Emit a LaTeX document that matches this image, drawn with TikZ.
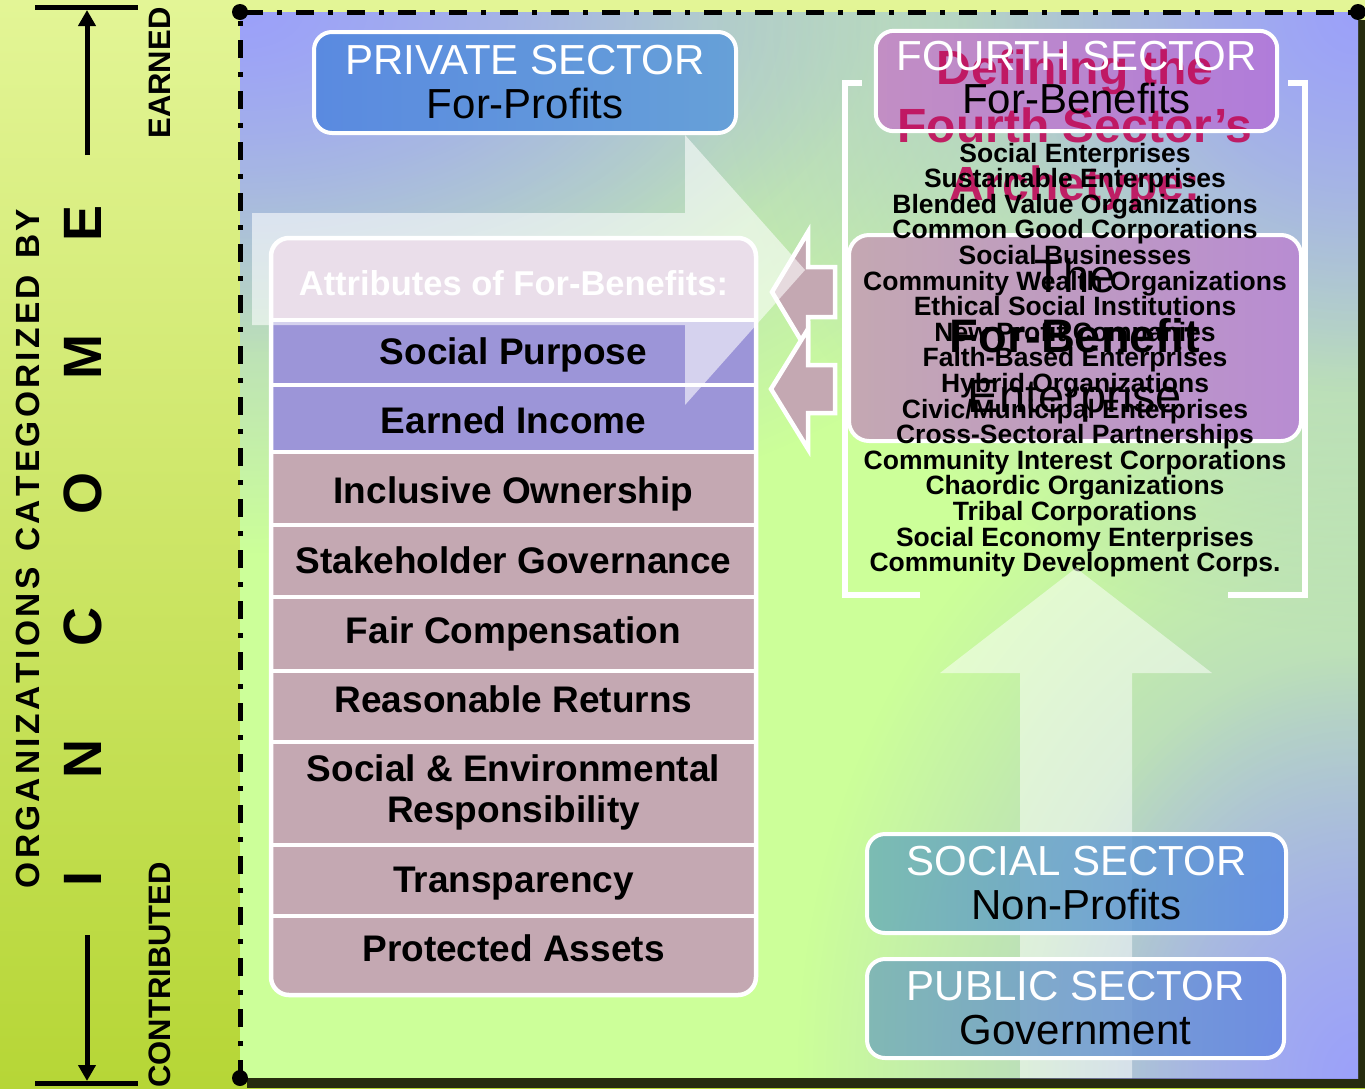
\documentclass[tikz,border=0pt]{standalone}
\usepackage{fontspec}
\setmainfont{Liberation Sans}
\usetikzlibrary{fadings,arrows.meta}

\definecolor{bgtop}{HTML}{E3F596}
\definecolor{bgbot}{HTML}{B6D636}
\definecolor{pgreen}{HTML}{CCFF99}
\definecolor{ppurp}{HTML}{999CFF}
\definecolor{shadowc}{HTML}{262C0E}
\definecolor{mauve}{HTML}{C4A8B2}
\definecolor{lilac}{HTML}{9C95D8}
\definecolor{hdrc}{HTML}{CDB2CE}
\definecolor{magen}{HTML}{C0105C}
\definecolor{privL}{HTML}{5A8AE0}
\definecolor{privR}{HTML}{66A0D8}
\definecolor{fourL}{HTML}{C28EC4}
\definecolor{fourR}{HTML}{B07CDA}
\definecolor{febL}{HTML}{C4A8B2}
\definecolor{febR}{HTML}{B88CD2}
\definecolor{socL}{HTML}{6EB2B6}
\definecolor{socR}{HTML}{5A8AE2}
\definecolor{pubL}{HTML}{76AEB8}
\definecolor{pubR}{HTML}{6688E2}

\tikzfading[name=blobfade, inner color=transparent!0, outer color=transparent!100]

\def\spaceout#1{\spaceoutA#1\relax}
\def\spaceoutA#1{\ifx#1\relax\else#1\kern3.3pt\expandafter\spaceoutA\fi}

\tikzset{
  sidetext/.style={rotate=90, inner sep=0pt},
  sectorbox/.style={draw=white, line width=4pt, rounded corners=18pt, align=center,
     font=\fontsize{42}{44}\selectfont},
  rowtext/.style={anchor=base, font=\bfseries\fontsize{37}{41}\selectfont, align=center},
  blockarrow/.style={fill=mauve, draw=white, line width=4.5pt, line join=miter},
  ghostarrow/.style={fill=white, opacity=0.58},
  blob/.style={fill=ppurp, path fading=blobfade, opacity=0.78},
}

\begin{document}
\begin{tikzpicture}[x=1pt,y=-1pt]
\useasboundingbox (0,0) rectangle (1365,1088);

% background strip
\shade[top color=bgtop, bottom color=bgbot] (0,0) rectangle (1365,1088);
% shadow
\fill[shadowc] (247,20) rectangle (1365,1088);
% panel
\fill[pgreen] (240,12) rectangle (1358,1078);
\begin{scope}
  \clip (240,12) rectangle (1358,1078);
  \fill[blob] (240,12) ellipse [x radius=920pt, y radius=540pt];
  \fill[blob] (240,12) ellipse [x radius=640pt, y radius=340pt];
  \fill[blob] (1358,12) ellipse [x radius=640pt, y radius=620pt];
  \fill[blob] (1358,12) ellipse [x radius=400pt, y radius=380pt];
  \fill[blob] (1358,1078) ellipse [x radius=560pt, y radius=700pt];
  \fill[blob] (1358,1078) ellipse [x radius=330pt, y radius=420pt];
\end{scope}

% dash-dot frame
\coordinate (fBL) at (240,1078);
\coordinate (fTL) at (240,12);
\coordinate (fTR) at (1358,12);
\draw[line width=5pt, dash pattern=on 18pt off 14pt on 5pt off 14pt] (fBL) -- (fTL) -- (fTR);
\fill (fTL) circle[radius=8pt];
\fill (fBL) circle[radius=8pt];
\fill (fTR) circle[radius=8pt];

% left strip
\coordinate (eL) at (35,7.5);
\coordinate (eR) at (138,7.5);
\coordinate (eA0) at (87,155);
\coordinate (eA1) at (87,10);
\draw[line width=5pt] (eL) -- (eR);
\draw[line width=5pt, -{Triangle[length=16pt,width=17pt]}] (eA0) -- (eA1);
\coordinate (cL) at (35,1083);
\coordinate (cR) at (138,1083);
\coordinate (cA0) at (87,935);
\coordinate (cA1) at (87,1081);
\draw[line width=5pt] (cL) -- (cR);
\draw[line width=5pt, -{Triangle[length=16pt,width=17pt]}] (cA0) -- (cA1);

\node[sidetext, font=\bfseries\fontsize{33.5}{36}\selectfont] (orgby) at (28,547)
  {\spaceout{ORGANIZATIONS~CATEGORIZED~BY}};
\node[sidetext, font=\bfseries\fontsize{54}{56}\selectfont] (income) at (83,546)
  {I\hspace{93pt}N\hspace{93pt}C\hspace{93pt}O\hspace{93pt}M\hspace{93pt}E};
\node[sidetext, font=\bfseries\fontsize{31}{33}\selectfont] (earned) at (159.5,73) {EARNED};
\node[sidetext, font=\bfseries\fontsize{31}{33}\selectfont] (contrib) at (159.5,975) {CONTRIBUTED};

% white bracket
\draw[white, line width=6pt] (862,83) -- (845,83) -- (845,595) -- (920,595);
\draw[white, line width=6pt] (1288,83) -- (1305,83) -- (1305,595) -- (1228,595);

% fourth sector box
\node[rounded corners=18pt, left color=fourL, right color=fourR, minimum width=401pt,
      minimum height=100pt] (fourth) at (1076.5,81) {};
\node[font=\bfseries\fontsize{48}{58}\selectfont, text=magen, text opacity=0.92, align=center]
  (title) at (1075,130) {Defining the\\Fourth Sector’s\\Archetype:};
\draw[white, line width=4pt, rounded corners=18pt] (fourth.south west) rectangle (fourth.north east);
\node[align=center, font=\fontsize{42}{43}\selectfont] (fourthtxt) at (1076.5,78)
  {\textcolor{white}{FOURTH SECTOR}\\For-Benefits};

% private sector box
\node[sectorbox, left color=privL, right color=privR, minimum width=422pt, minimum height=101pt]
  (private) at (525,82.5) {\textcolor{white}{PRIVATE SECTOR}\\For-Profits};

% attributes box
\begin{scope}
  \clip[rounded corners=18pt] (271,238) rectangle (756,995);
  \fill[hdrc] (271,238) rectangle (756,320);
  \fill[lilac] (271,320) rectangle (756,452);
  \fill[mauve] (271,452) rectangle (756,995);
  \foreach \yy in {320,385,452,525,597,671,742,845,916}
    \draw[white, line width=4pt] (265,\yy) -- (762,\yy);
\end{scope}
\draw[white, line width=4.5pt, rounded corners=18pt] (271,238) rectangle (756,995);

\node[anchor=base, font=\bfseries\fontsize{34.5}{36}\selectfont, text=white] (hdr) at (513.5,295)
  {Attributes of For-Benefits:};
\node[rowtext] (r1) at (513.5,364) {Social Purpose};
\node[rowtext] (r2) at (513.5,433) {Earned Income};
\node[rowtext] (r3) at (513.5,503) {Inclusive Ownership};
\node[rowtext] (r4) at (513.5,573) {Stakeholder Governance};
\node[rowtext] (r5) at (513.5,643) {Fair Compensation};
\node[rowtext] (r6) at (513.5,712) {Reasonable Returns};
\node[rowtext, anchor=center] (r7) at (513.5,792) {Social \& Environmental\\Responsibility};
\node[rowtext] (r8) at (513.5,892) {Transparency};
\node[rowtext] (r9) at (513.5,961) {Protected Assets};

% left-pointing block arrows
\draw[blockarrow] (772,292) -- (808,232) -- (808,267) -- (835,267) -- (835,317) -- (808,317) -- (808,352) -- cycle;
\draw[blockarrow] (771,389) -- (808,329) -- (808,365) -- (835,365) -- (835,413) -- (808,413) -- (808,449) -- cycle;

% translucent right arrow from private sector
\fill[ghostarrow] (252,213) -- (685,213) -- (685,135) -- (805,270) -- (685,405) -- (685,325) -- (252,325) -- cycle;

% for-benefit enterprise box
\node[draw=white, line width=4pt, rounded corners=20pt, left color=febL, right color=febR,
      minimum width=452pt, minimum height=206pt] (feb) at (1075,338) {};
\node[align=center, font=\fontsize{47}{60}\selectfont] (febtxt) at (1075,340)
  {The\\\textbf{For-Benefit}\\Enterprise};

% list of names
\node[align=center, font=\bfseries\fontsize{26.5}{25.6}\selectfont] (names) at (1075,360)
  {Social Enterprises\\Sustainable Enterprises\\Blended Value Organizations\\Common Good Corporations\\Social Businesses\\Community Wealth Organizations\\Ethical Social Institutions\\New Profit Companies\\Faith-Based Enterprises\\Hybrid Organizations\\Civic/Municipal Enterprises\\Cross-Sectoral Partnerships\\Community Interest Corporations\\Chaordic Organizations\\Tribal Corporations\\Social Economy Enterprises\\Community Development Corps.};

% translucent up arrow
\fill[ghostarrow, opacity=0.5] (1020,1078) -- (1020,673) -- (940,673) -- (1076,568) -- (1212,673) -- (1132,673) -- (1132,1078) -- cycle;

% social & public sector boxes
\node[sectorbox, left color=socL, right color=socR, fill opacity=0.85, text opacity=1,
      minimum width=419pt, minimum height=99pt] (social) at (1076.5,883.5)
  {\textcolor{white}{SOCIAL SECTOR}\\Non-Profits};
\node[sectorbox, left color=pubL, right color=pubR, fill opacity=0.85, text opacity=1,
      minimum width=417pt, minimum height=99pt] (public) at (1075.5,1008.5)
  {\textcolor{white}{PUBLIC SECTOR}\\Government};

\end{tikzpicture}
\end{document}
